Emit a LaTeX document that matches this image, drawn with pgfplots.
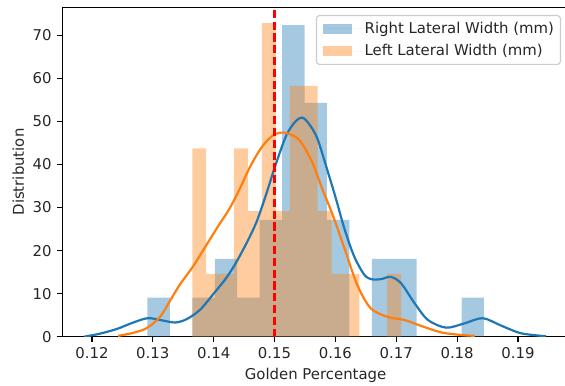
\documentclass[border=0pt]{standalone}
\usepackage{fontspec}
\setmainfont{DejaVu Sans}
\usepackage{pgfplots}
\pgfplotsset{compat=1.18}
\definecolor{mblue}{HTML}{1F77B4}
\definecolor{morange}{HTML}{FF7F0E}
\begin{document}
\fontsize{14.9}{17.5}\selectfont
\begin{tikzpicture}
\begin{axis}[
  scale only axis, width=505.8pt, height=329.4pt,
  xmin=0.1152, xmax=0.1983, ymin=0, ymax=76.5,
  axis line style={line width=1.2pt},
  tick align=outside, tick pos=left,
  major tick length=5.2pt,
  every tick/.style={black, line width=1.2pt},
  xtick={0.12,0.13,0.14,0.15,0.16,0.17,0.18,0.19},
  xticklabels={0.12,0.13,0.14,0.15,0.16,0.17,0.18,0.19},
  ytick={0,10,20,30,40,50,60,70},
  yticklabels={0,10,20,30,40,50,60,70},
  tick label style={font=\fontsize{14.9}{17.5}\selectfont, text=black!85},
  xticklabel style={inner sep=0pt, anchor=north},
  yticklabel style={inner sep=0pt, anchor=east},
  xticklabel shift=5.2pt, yticklabel shift=5.8pt,
  xlabel={Golden Percentage}, ylabel={Distribution},
  label style={font=\fontsize{14.9}{17.5}\selectfont, text=black!85},
  xlabel style={at={([yshift=-42.5pt]axis description cs:0.5,0)}, anchor=base, inner sep=0pt},
  ylabel style={at={([xshift=-44.4pt]axis description cs:0,0.5)}, anchor=center, inner sep=0pt},
  legend cell align=left,
  legend image code/.code={\fill[#1, sharp corners] (0pt,-5.2pt) rectangle (29.3pt,5.2pt); \path (0pt,0pt) -- (41.7pt,0pt);},
  legend style={at={(1,1)}, anchor=north east, xshift=-7.5pt, yshift=-7.7pt,
    draw=black!20, fill=white, rounded corners=3pt, line width=1.2pt,
    inner xsep=6.5pt, inner ysep=6.5pt, row sep=9.2pt,
    font=\fontsize{14.9}{17.5}\selectfont, text=black!85,
    nodes={inner sep=0pt, text height=11.3pt, text depth=2pt}},
]
\addplot[ybar interval, fill=mblue, fill opacity=0.4, draw=none] coordinates {
(0.12913,9.05) (0.13282,0) (0.13650,9.05) (0.14019,18.09) (0.14387,9.05) (0.14756,27.14) (0.15124,72.37) (0.15493,54.28) (0.15861,27.14) (0.16230,0) (0.16598,18.09) (0.16967,18.09) (0.17335,0) (0.17704,0) (0.18072,9.05) (0.18441,0)};
\addlegendentry{Right Lateral Width (mm)}
\addplot[ybar interval, fill=morange, fill opacity=0.4, draw=none] coordinates {
(0.13649,43.71) (0.13878,14.57) (0.14107,14.57) (0.14335,43.71) (0.14564,29.14) (0.14793,72.84) (0.15022,29.14) (0.15251,58.28) (0.15479,58.28) (0.15708,29.14) (0.15937,14.57) (0.16166,14.57) (0.16395,0) (0.16623,0) (0.16852,14.57) (0.17081,0)};
\addlegendentry{Left Lateral Width (mm)}
\addplot[mblue, line width=2.2pt, smooth, tension=0.5, forget plot] coordinates {
(0.1187,0) (0.1213,0.7) (0.1241,1.8) (0.1268,3.3) (0.1292,4.3) (0.1315,3.8) (0.1337,3.3) (0.1356,4.1) (0.1378,6.3) (0.1400,10.0) (0.1420,13.5) (0.1436,17.0) (0.1455,22.0) (0.1470,26.5) (0.1485,32.5) (0.1502,40.0) (0.1522,47.5) (0.1545,50.9) (0.1568,46.8) (0.1585,39.5) (0.1601,32.0) (0.1615,25.0) (0.1631,18.6) (0.1648,14.3) (0.1661,13.3) (0.1676,13.4) (0.1691,13.9) (0.1708,12.4) (0.1730,7.8) (0.1752,3.9) (0.1782,2.1) (0.1812,3.1) (0.1842,4.3) (0.1872,2.6) (0.1905,0.8) (0.1946,0.1)};
\addplot[morange, line width=2.2pt, smooth, tension=0.5, forget plot] coordinates {
(0.1243,0.2) (0.1268,0.9) (0.1290,2.0) (0.1312,4.6) (0.1329,8.5) (0.1345,12.2) (0.1367,16.5) (0.1389,21.5) (0.1408,25.8) (0.1425,29.5) (0.1440,33.5) (0.1460,39.5) (0.1478,43.8) (0.1496,46.6) (0.1515,47.4) (0.1540,45.8) (0.1562,40.5) (0.1578,34.5) (0.1595,28.5) (0.1615,20.5) (0.1636,12.0) (0.1658,6.6) (0.1686,4.6) (0.1713,3.9) (0.1741,2.5) (0.1774,1.0) (0.1807,0.4) (0.1829,0.2)};
\addplot[red, line width=2.2pt, dash pattern=on 8.2pt off 3.6pt, forget plot] coordinates {(0.15,0) (0.15,76.5)};
\end{axis}
\pgfresetboundingbox
\path[use as bounding box] ([shift={(-62.7pt,-48.3pt)}]current axis.south west) rectangle ([shift={(-3.5pt,7.3pt)}]current axis.north east);
\end{tikzpicture}
\end{document}
